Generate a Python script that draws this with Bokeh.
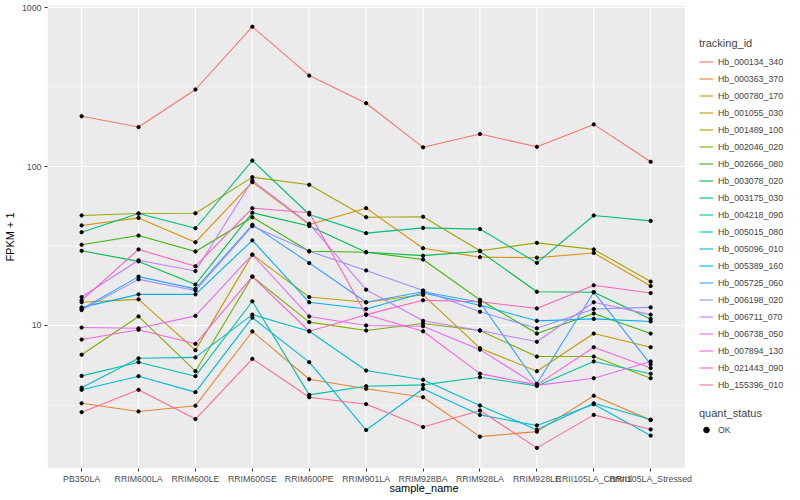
from bokeh.plotting import figure
from bokeh.models import (FixedTicker, PrintfTickFormatter, Legend, LegendItem,
                          Range1d, ColumnDataSource)
from bokeh.embed import file_html
from bokeh.resources import INLINE

# ---------------- data (FPKM + 1) ----------------
samples = ["PB350LA", "RRIM600LA", "RRIM600LE", "RRIM600SE", "RRIM600PE",
           "RRIM901LA", "RRIM928BA", "RRIM928LA", "RRIM928LE",
           "RRII105LA_Control", "RRII105LA_Stressed"]

tracking_ids = ["Hb_000134_340", "Hb_000363_370", "Hb_000780_170", "Hb_001055_030",
                "Hb_001489_100", "Hb_002046_020", "Hb_002666_080", "Hb_003078_020",
                "Hb_003175_030", "Hb_004218_090", "Hb_005015_080", "Hb_005096_010",
                "Hb_005389_160", "Hb_005725_060", "Hb_006198_020", "Hb_006711_070",
                "Hb_006738_050", "Hb_007894_130", "Hb_021443_090", "Hb_155396_010"]

colors = ["#F8766D", "#EA8331", "#D89000", "#C09B00", "#A3A500", "#7CAE00",
          "#39B600", "#00BB4E", "#00BF7D", "#00C1A3", "#00BFC4", "#00BAE0",
          "#00B0F6", "#35A2FF", "#9590FF", "#C77CFF", "#E76BF3", "#FA62DB",
          "#FF62BC", "#FF6C90"]

Hb_000134_340 = [207, 177, 305, 757, 373, 250, 132, 160, 133, 184, 107]
Hb_000363_370 = [3.24, 2.88, 3.13, 9.17, 4.59, 4.0, 3.54, 2.0, 2.15, 3.62, 2.54]
Hb_000780_170 = [42.6, 47.5, 33.4, 79.7, 43.2, 54.7, 30.6, 26.9, 26.7, 28.6, 17.7]
Hb_001055_030 = [14.0, 14.6, 7.0, 27.9, 15.1, 14.0, 15.6, 7.2, 5.16, 8.9, 7.3]
Hb_001489_100 = [49.2, 50.6, 50.8, 85.7, 76.8, 48.0, 48.3, 29.5, 33.1, 30.1, 18.9]
Hb_002046_020 = [6.55, 11.4, 5.16, 20.3, 10.5, 9.3, 10.3, 9.3, 6.38, 6.38, 4.66]
Hb_002666_080 = [32.2, 36.8, 29.2, 48.0, 29.3, 28.9, 26.0, 14.5, 8.9, 11.9, 8.9]
Hb_003078_020 = [29.5, 25.3, 18.1, 51.2, 42.2, 28.9, 27.5, 29.3, 16.3, 16.2, 11.0]
Hb_003175_030 = [38.6, 50.6, 40.9, 109, 49.9, 38.1, 41.1, 40.4, 24.8, 49.2, 45.5]
Hb_004218_090 = [4.82, 5.88, 4.80, 14.2, 3.66, 4.15, 4.23, 4.73, 4.17, 5.94, 4.97]
Hb_005015_080 = [4.06, 6.22, 6.3, 11.7, 9.2, 5.21, 4.56, 3.14, 2.21, 3.24, 2.56]
Hb_005096_010 = [3.94, 4.80, 3.81, 11.2, 5.88, 2.2, 4.0, 2.74, 2.35, 3.20, 2.03]
Hb_005389_160 = [13.0, 15.7, 15.7, 34.3, 14.0, 12.7, 16.0, 13.4, 10.7, 11.0, 10.6]
Hb_005725_060 = [12.7, 20.3, 17.0, 43.0, 24.7, 14.0, 16.3, 14.0, 4.30, 16.2, 5.7]
Hb_006198_020 = [12.5, 19.5, 16.6, 42.2, 29.3, 22.2, 16.6, 12.2, 9.6, 12.7, 13.0]
Hb_006711_070 = [15.1, 25.7, 22.0, 81.7, 43.6, 16.8, 10.7, 9.3, 7.9, 14.0, 11.7]
Hb_006738_050 = [9.71, 9.6, 11.5, 27.9, 11.4, 10.0, 9.9, 7.05, 4.2, 4.66, 5.94]
Hb_007894_130 = [8.16, 9.4, 7.67, 20.3, 9.2, 11.7, 9.2, 4.98, 4.23, 7.3, 5.4]
Hb_021443_090 = [14.4, 30.1, 23.6, 54.7, 51.2, 11.7, 14.4, 14.1, 12.8, 17.9, 16.0]
Hb_155396_010 = [2.85, 3.94, 2.58, 6.17, 3.54, 3.2, 2.30, 2.92, 1.70, 2.74, 2.22]

series = [Hb_000134_340, Hb_000363_370, Hb_000780_170, Hb_001055_030, Hb_001489_100,
          Hb_002046_020, Hb_002666_080, Hb_003078_020, Hb_003175_030, Hb_004218_090,
          Hb_005015_080, Hb_005096_010, Hb_005389_160, Hb_005725_060, Hb_006198_020,
          Hb_006711_070, Hb_006738_050, Hb_007894_130, Hb_021443_090, Hb_155396_010]

y_ticks = [10, 100, 1000]
y_minor = [10 ** 0.5, 10 ** 1.5, 10 ** 2.5]

FONT = "Liberation Sans"
x_pos = list(range(1, len(samples) + 1))

# ---------------- layout ----------------
W, H = 800, 500
BL, BR, BT, BB = 45, 0, 5, 32
FW = W - BL - BR
PANEL_W = 639                        # width of the grey panel in px
x_lo, x_hi = 0.4, len(samples) + 0.6  # ggplot discrete expansion
x_end = x_lo + (x_hi - x_lo) * FW / PANEL_W
y_lo, y_hi = 10 ** 0.1006, 10 ** 3.0126

p = figure(width=W, height=H,
           x_range=Range1d(x_lo, x_end), y_range=Range1d(y_lo, y_hi),
           y_axis_type="log",
           output_backend="svg", toolbar_location=None,
           min_border_left=BL, min_border_right=BR,
           min_border_top=BT, min_border_bottom=BB,
           background_fill_color="white", border_fill_color="white",
           outline_line_color=None)

p.xgrid.grid_line_color = None
p.ygrid.grid_line_color = None
p.ygrid.minor_grid_line_color = None

p.xaxis.ticker = FixedTicker(ticks=x_pos)
p.xaxis.major_label_overrides = {i + 1: s for i, s in enumerate(samples)}
p.xaxis.bounds = (x_lo, x_hi)
p.yaxis.ticker = FixedTicker(ticks=y_ticks, minor_ticks=y_minor)
p.yaxis.formatter = PrintfTickFormatter(format="%d")

for ax in (p.xaxis[0], p.yaxis[0]):
    ax.axis_line_color = None
    ax.major_tick_line_color = "#333333"
    ax.major_tick_out = 3
    ax.major_tick_in = 0
    ax.minor_tick_line_color = None
    ax.major_label_text_font = FONT
    ax.major_label_text_font_size = "8.8px"
    ax.major_label_text_color = "#4D4D4D"
    ax.major_label_standoff = 2
    ax.axis_label_text_font = FONT
    ax.axis_label_text_font_size = "11px"
    ax.axis_label_text_font_style = "normal"
    ax.axis_label_text_color = "black"
p.xaxis.axis_label = "sample_name"
p.xaxis.axis_label_standoff = -5
p.yaxis.axis_label = "FPKM + 1"
p.yaxis.axis_label_standoff = 3

# ---------------- grey panel and its grid ----------------
p.quad(left=[x_lo], right=[x_hi], bottom=[y_lo], top=[y_hi],
       fill_color="#EBEBEB", line_color=None)
p.segment(x0=[x_lo] * 3, x1=[x_hi] * 3, y0=y_minor, y1=y_minor,
          line_color="white", line_width=0.55)
p.segment(x0=[x_lo] * 3, x1=[x_hi] * 3, y0=y_ticks, y1=y_ticks,
          line_color="white", line_width=1.1)
p.segment(x0=x_pos, x1=x_pos, y0=[y_lo] * len(x_pos), y1=[y_hi] * len(x_pos),
          line_color="white", line_width=1.1)

# ---------------- lines ----------------
items = []
for tid, col, vals in zip(tracking_ids, colors, series):
    r = p.line(x_pos, vals, line_color=col, line_width=1.1)
    items.append(LegendItem(label=tid, renderers=[r]))

# ---------------- points ----------------
px, py = [], []
for vals in series:
    px.extend(x_pos)
    py.extend(vals)
pts = p.scatter(x="x", y="y", source=ColumnDataSource(dict(x=px, y=py)),
                size=3.3, color="black")

# ---------------- legends ----------------
def style(leg, standoff):
    leg.title_text_font = FONT
    leg.title_text_font_size = "11px"
    leg.title_text_font_style = "normal"
    leg.label_text_font = FONT
    leg.label_text_font_size = "8.8px"
    leg.glyph_width = 14
    leg.glyph_height = 17
    leg.label_height = 17
    leg.label_standoff = 5
    leg.spacing = 0
    leg.padding = 0
    leg.margin = 0
    leg.title_standoff = standoff
    leg.border_line_color = None
    leg.background_fill_alpha = 0

leg1 = Legend(items=items, title="tracking_id", location=(652, 75))
style(leg1, 4)
p.add_layout(leg1)

leg2 = Legend(items=[LegendItem(label="OK", renderers=[pts])], title="quant_status",
              location=(652, 30))
style(leg2, 2)
p.add_layout(leg2)

open("out.html", "w").write(file_html(p, INLINE))
